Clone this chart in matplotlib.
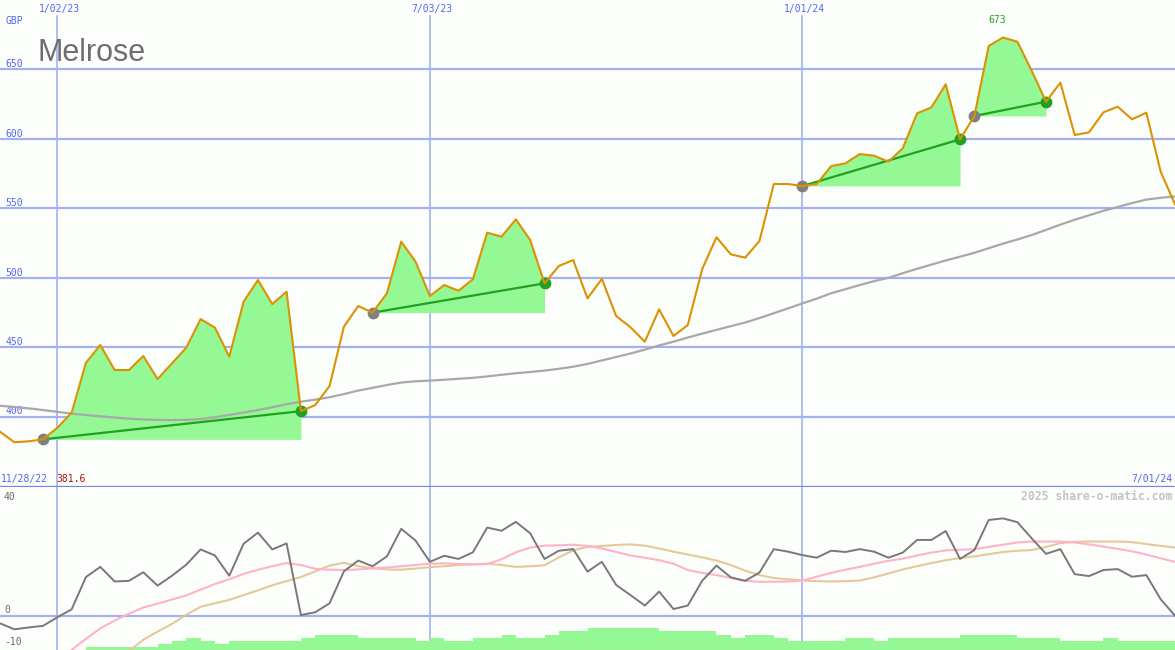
import numpy as np
import pandas as pd
import matplotlib
matplotlib.use("Agg")
import matplotlib.pyplot as plt
import matplotlib.dates as mdates

# ---------------- data ----------------
title = "Melrose"
currency = "GBP"
dates = pd.date_range("2022-12-05", periods=83, freq="7D")

price = [389.2, 381.6, 382.3, 383.7, 392.0, 402.9, 438.9, 451.6, 433.6, 433.6,
         443.7, 427.1, 438.4, 449.7, 470.3, 464.1, 443.2, 482.8, 498.4, 481.1,
         490.0, 404.0, 408.4, 422.1, 464.8, 479.7, 474.9, 488.8, 526.0, 511.6,
         486.9, 494.8, 490.7, 498.9, 532.5, 529.6, 542.1, 527.2, 496.0, 508.5,
         512.8, 485.2, 499.2, 472.5, 464.4, 454.0, 477.3, 458.1, 466.0, 506.1,
         529.2, 516.9, 514.5, 526.5, 567.5, 567.5, 566.1, 567.5, 580.4, 582.4,
         589.1, 587.9, 583.6, 593.2, 618.4, 622.7, 639.3, 599.7, 616.5, 666.9,
         673.0, 670.0, 649.0, 626.8, 640.5, 602.8, 604.7, 619.1, 623.2, 614.1,
         618.9, 576.4, 552.9]

moving_avg = [407.9, 407.0, 406.0, 404.8, 403.5, 402.2, 401.2, 400.3, 399.4, 398.6,
              398.0, 397.7, 397.6, 397.7, 398.3, 399.6, 401.3, 403.0, 404.8, 406.8,
              409.0, 410.8, 412.3, 414.0, 416.3, 418.8, 420.8, 422.8, 424.6, 425.5,
              426.0, 426.6, 427.3, 428.0, 429.0, 430.2, 431.3, 432.2, 433.2, 434.5,
              436.0, 438.0, 440.5, 443.0, 445.5, 448.3, 451.3, 454.0, 457.0, 459.8,
              462.5, 465.2, 467.8, 471.0, 474.5, 478.0, 481.6, 485.0, 488.9, 491.8,
              494.8, 497.6, 500.0, 503.3, 506.5, 509.5, 512.5, 515.2, 518.0, 521.3,
              524.6, 527.6, 530.8, 534.5, 538.3, 541.8, 545.0, 548.2, 551.0, 553.8,
              556.3, 557.6, 558.6]

# (start index, end index) of the highlighted up-trends
trend_start = [3, 26, 56, 68]
trend_end = [21, 38, 67, 73]

oscillator = [-2.4, -4.3, -3.7, -3.2, -0.5, 2.0, 12.2, 15.4, 10.8, 11.0,
              13.7, 9.5, 12.6, 16.1, 20.9, 19.0, 12.6, 22.7, 26.2, 20.9,
              22.8, 0.2, 1.1, 3.9, 14.0, 17.4, 15.6, 18.7, 27.4, 23.7,
              17.0, 18.9, 17.9, 20.0, 27.8, 26.8, 29.6, 26.0, 17.9, 20.5,
              21.0, 13.9, 17.0, 9.7, 6.5, 3.2, 7.6, 2.1, 3.2, 11.0,
              15.8, 12.1, 11.0, 13.6, 21.0, 20.2, 19.1, 18.3, 20.5, 20.1,
              21.0, 20.2, 18.3, 19.9, 23.9, 23.9, 26.7, 17.9, 20.7, 30.2,
              30.7, 29.5, 24.4, 19.5, 21.0, 13.1, 12.5, 14.4, 14.7, 12.3,
              12.8, 5.2, 0.0]

signal_fast = [np.nan, np.nan, np.nan, np.nan, -14.0, -10.8, -7.3, -4.0, -1.5, 0.6,
               2.6, 3.8, 5.1, 6.4, 8.2, 10.0, 11.5, 13.2, 14.5, 15.6,
               16.6, 16.0, 14.8, 14.5, 14.4, 14.6, 14.9, 15.2, 15.6, 16.0,
               16.4, 16.5, 16.3, 16.2, 16.3, 17.8, 20.0, 21.5, 22.1, 22.2,
               22.4, 22.0, 21.2, 20.1, 19.0, 18.3, 17.5, 16.4, 14.4, 13.5,
               12.8, 11.9, 11.0, 10.7, 10.7, 10.8, 11.1, 12.3, 13.5, 14.5,
               15.4, 16.4, 17.3, 18.0, 19.0, 19.9, 20.6, 20.8, 21.0, 21.7,
               22.4, 23.1, 23.4, 23.4, 23.4, 23.1, 22.5, 21.8, 21.1, 20.3,
               19.3, 18.1, 17.0]

signal_slow = [np.nan, np.nan, np.nan, np.nan, np.nan, np.nan, np.nan, np.nan, -15.0, -11.2,
               -7.6, -5.0, -2.6, 0.3, 2.8, 3.9, 5.0, 6.5, 8.0, 9.6,
               10.9, 12.2, 14.0, 15.8, 16.7, 15.6, 15.0, 14.6, 14.5, 14.9,
               15.3, 15.6, 16.0, 16.2, 16.4, 16.0, 15.4, 15.6, 15.9, 18.4,
               20.6, 21.7, 22.0, 22.3, 22.5, 22.1, 21.2, 20.2, 19.3, 18.4,
               17.4, 16.0, 14.2, 12.8, 11.9, 11.5, 11.1, 10.9, 10.8, 10.9,
               11.1, 12.1, 13.3, 14.6, 15.6, 16.6, 17.5, 18.2, 18.7, 19.4,
               20.1, 20.5, 20.7, 21.7, 22.9, 23.3, 23.4, 23.4, 23.4, 23.2,
               22.6, 22.0, 21.5]

volume = [0, 0, 0, 0, 0, 0, 1, 1, 1, 1,
          1, 2, 3, 4, 3, 2, 3, 3, 3, 3,
          3, 4, 5, 5, 5, 4, 4, 4, 4, 3,
          4, 3, 3, 4, 4, 5, 4, 4, 5, 6,
          6, 7, 7, 7, 7, 7, 6, 6, 6, 6,
          5, 4, 5, 5, 4, 3, 3, 3, 3, 4,
          4, 3, 4, 4, 4, 4, 4, 5, 5, 5,
          5, 4, 4, 4, 3, 3, 3, 4, 3, 3,
          3, 3, 3]
volume_step = [0, 1.0, 1.9, 2.85, 3.9, 4.75, 6.0, 7.05]

price_ticks = [400, 450, 500, 550, 600, 650]
osc_ticks = [40, 0, -10]
date_ticks = ["2023-01-02", "2023-07-03", "2024-01-01"]
date_tick_labels = ["1/02/23", "7/03/23", "1/01/24"]
left_label = "11/28/22"
right_label = "7/01/24"
low_label = "381.6"
high_label = "673"
watermark = "2025 share-o-matic.com"

# ---------------- style ----------------
W, H = 1175, 650
BG = "#fcfefc"
GRID = "#a3b0f2"
SEP = "#7482ee"
LBL = "#5566ee"
ORANGE = "#dc9200"
FILL = "#94f894"
TREND = "#22a022"
MA = "#a8a8a8"
MONO = "DejaVu Sans Mono"

fig = plt.figure(figsize=(W / 100, H / 100), dpi=100, facecolor=BG)
split = 163 / H
ax = fig.add_axes([0, split, 1, 1 - split], facecolor=BG)
ax2 = fig.add_axes([0, 0, 1, split], facecolor=BG)

dnum = mdates.date2num(dates)
price = np.array(price)

for a in (ax, ax2):
    a.set_xlim(dnum[0], dnum[-1])
    a.set_xticks([])
    a.set_yticks([])
    for s in a.spines.values():
        s.set_visible(False)

ax.set_ylim(349.4, 700)
ax2.set_ylim(-10.82, 40.6)

# top panel grid
for v in price_ticks:
    ax.axhline(v, color=GRID, lw=1.6, zorder=1)
    ax.annotate(str(v), xy=(0, v), xycoords=ax.get_yaxis_transform(),
                xytext=(3.6, 3.8), textcoords="offset points",
                fontsize=7, family=MONO, color=LBL, va="center", ha="left")
for d, lab in zip(date_ticks, date_tick_labels):
    xd = mdates.date2num(pd.Timestamp(d))
    ax.axvline(xd, ymin=0, ymax=1 - 16 / 487, color=GRID, lw=1.2, zorder=1)
    ax2.axvline(xd, color=GRID, lw=1.2, zorder=1)
    ax.annotate(lab, xy=(xd, 1), xycoords=ax.get_xaxis_transform(),
                xytext=(1.5, -6.5), textcoords="offset points",
                fontsize=7, family=MONO, color=LBL, va="center", ha="center")

# separator between panels
ax.spines["bottom"].set_visible(True)
ax.spines["bottom"].set_color(SEP)
ax.spines["bottom"].set_linewidth(1.6)
ax.spines["bottom"].set_zorder(10)

# trend fills and lines
for s, e in zip(trend_start, trend_end):
    base = price[s]
    ax.fill_between(dnum[s:e + 1], price[s:e + 1], base, color=FILL, lw=0, zorder=2)
for s, e in zip(trend_start, trend_end):
    ax.plot([dnum[s], dnum[e]], [price[s], price[e]], color=TREND, lw=1.6, zorder=4)
    ax.plot(dnum[s], price[s], "o", ms=8.5, color="#808080", mec="none", zorder=4)
    ax.plot(dnum[e], price[e], "o", ms=8.5, color=TREND, mec="none", zorder=4)

ax.plot(dnum, moving_avg, color=MA, lw=1.6, zorder=3)
ax.plot(dnum, price, color=ORANGE, lw=1.5, zorder=5)

# texts top panel
imax = int(np.argmax(price))
ax.annotate(high_label, xy=(dnum[imax], price[imax]), xytext=(-4, 12.5),
            textcoords="offset points", fontsize=7, family=MONO,
            color=TREND, ha="center", va="center")
fig.text(5 / W, 1 - 21 / H, currency, fontsize=7, family=MONO, color=LBL,
         ha="left", va="center")
fig.text(38 / W, 1 - 61 / H, title, fontsize=22, family="Liberation Sans",
         color="#6e6e6e", ha="left", va="baseline")
fig.text(1 / W, 1 - 479 / H, left_label, fontsize=7, family=MONO, color=LBL,
         ha="left", va="center")
fig.text(56 / W, 1 - 479 / H, low_label, fontsize=7, family=MONO, color="#a01818",
         ha="left", va="center")
fig.text(1172 / W, 1 - 479 / H, right_label, fontsize=7, family=MONO, color=LBL,
         ha="right", va="center")

# bottom panel
ax2.axhline(0, color=GRID, lw=1.6, zorder=1)
ylo = ax2.get_ylim()[0]
vol_h = [volume_step[v] for v in volume]
ax2.bar(dnum[:-1], vol_h[:-1], width=np.diff(dnum), bottom=ylo, align="edge",
        color=FILL, lw=0, zorder=2)
ax2.plot(dnum, signal_slow, color="#e4c998", lw=1.5, zorder=3)
ax2.plot(dnum, signal_fast, color="#ffb2c8", lw=1.5, zorder=3)
ax2.plot(dnum, oscillator, color="#787878", lw=1.4, zorder=4)

osc_label_pos = {40: 497, 0: 610, -10: 642}
for v in osc_ticks:
    fig.text(4 / W, 1 - osc_label_pos[v] / H, str(v), fontsize=7, family=MONO,
             color="#6a6a6a", ha="left", va="center")
fig.text(1172 / W, 1 - 496 / H, watermark, fontsize=8.3, family=MONO,
         weight="bold", color="#c4c4c4", ha="right", va="center")

fig.savefig("out.png", dpi=100, facecolor=BG)
